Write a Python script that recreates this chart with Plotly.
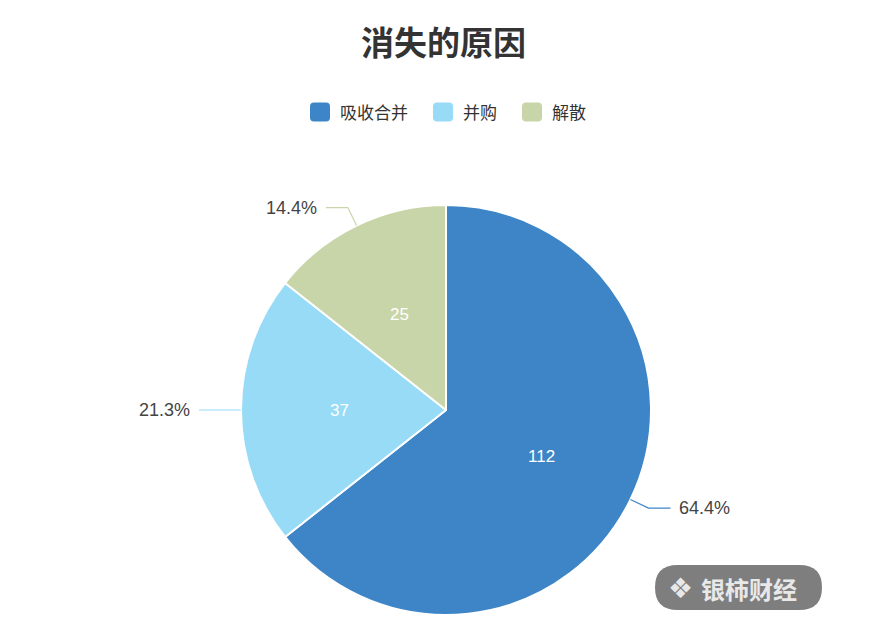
import math
import plotly.graph_objects as go

categories = ["吸收合并", "并购", "解散"]
values = [112, 37, 25]
colors = ["#3d85c6", "#97dbf7", "#c8d5a8"]
title_text = "消失的原因"
watermark_text = "银柿财经"

W, H = 870, 638
OFF = 8  # page body margin
cx, cy, R = 446, 410, 205  # pie center / radius in page pixels


def px(x):
    return (x - OFF) / W


def py(y):
    return 1 - (y - OFF) / H


CJK = "Noto Sans CJK SC, Noto Sans, sans-serif"
NUM = "Liberation Sans, Arial, sans-serif"


def rounded_rect(x0, y0, x1, y1, r):
    return (
        f"M {px(x0 + r)},{py(y0)} L {px(x1 - r)},{py(y0)} "
        f"Q {px(x1)},{py(y0)} {px(x1)},{py(y0 + r)} "
        f"L {px(x1)},{py(y1 - r)} "
        f"Q {px(x1)},{py(y1)} {px(x1 - r)},{py(y1)} "
        f"L {px(x0 + r)},{py(y1)} "
        f"Q {px(x0)},{py(y1)} {px(x0)},{py(y1 - r)} "
        f"L {px(x0)},{py(y0 + r)} "
        f"Q {px(x0)},{py(y0)} {px(x0 + r)},{py(y0)} Z"
    )


fig = go.Figure()
fig.add_trace(go.Pie(
    labels=categories,
    values=values,
    sort=False,
    direction="clockwise",
    rotation=0,
    marker=dict(colors=colors, line=dict(color="white", width=2)),
    textinfo="none",
    hoverinfo="label+value+percent",
    domain=dict(x=[px(cx - R), px(cx + R)], y=[py(cy + R), py(cy - R)]),
    showlegend=False,
))

annotations = []
shapes = []
total = sum(values)
start = 0.0
for cat, v, col in zip(categories, values, colors):
    frac = v / total
    mid = (start + frac / 2) * 2 * math.pi  # clockwise from top
    start += frac
    s, c = math.sin(mid), math.cos(mid)
    ri = R * 0.52
    annotations.append(dict(
        x=px(cx + ri * s), y=py(cy - ri * c), xref="paper", yref="paper",
        text=str(v), showarrow=False,
        font=dict(family=NUM, size=17, color="white"),
        xanchor="center", yanchor="middle"))
    x1, y1 = cx + R * s, cy - R * c
    x2, y2 = cx + (R + 20) * s, cy - (R + 20) * c
    right = s >= 0
    x3 = x2 + (22 if right else -22)
    path = f"M {px(x1)},{py(y1)} L {px(x2)},{py(y2)} L {px(x3)},{py(y2)}"
    shapes.append(dict(type="path", xref="paper", yref="paper", path=path,
                       line=dict(color=col, width=1.2)))
    pct = f"{frac * 100:.1f}%"
    annotations.append(dict(
        x=px(x3 + (7 if right else -7)), y=py(y2), xref="paper", yref="paper",
        text=pct, showarrow=False,
        font=dict(family=NUM, size=18, color="#444444"),
        xanchor="left" if right else "right", yanchor="middle"))

# custom legend
legend_x = [310, 433, 522]
ly = 112
for cat, col, lx in zip(categories, colors, legend_x):
    shapes.append(dict(type="path", xref="paper", yref="paper",
                       path=rounded_rect(lx, ly - 9.5, lx + 20, ly + 9.5, 4),
                       fillcolor=col, line=dict(width=0)))
    annotations.append(dict(
        x=px(lx + 28), y=py(ly), xref="paper", yref="paper", text=cat,
        showarrow=False, font=dict(family=CJK, size=17, color="#333333"),
        xanchor="left", yanchor="middle"))

# watermark rounded box
bx0, by0, bx1, by1 = 655, 565, 822, 610
shapes.append(dict(type="path", xref="paper", yref="paper",
                   path=rounded_rect(bx0, by0, bx1, by1, (by1 - by0) / 2),
                   fillcolor="rgba(115,115,115,0.92)", line=dict(width=0)))
annotations.append(dict(
    x=px(680), y=py(588), xref="paper", yref="paper", text="❖",
    showarrow=False, font=dict(family="DejaVu Sans", size=28, color="#e8e8e8"),
    xanchor="center", yanchor="middle"))
annotations.append(dict(
    x=px(699), y=py(588), xref="paper", yref="paper",
    text=f"<b>{watermark_text}</b>", showarrow=False,
    font=dict(family=CJK, size=24, color="#e8e8e8"),
    xanchor="left", yanchor="middle"))

# title
annotations.append(dict(
    x=px(444), y=py(41), xref="paper", yref="paper",
    text=f"<b>{title_text}</b>", showarrow=False,
    font=dict(family=CJK, size=33, color="#333333"),
    xanchor="center", yanchor="middle"))

fig.update_layout(
    width=W, height=H,
    margin=dict(l=0, r=0, t=0, b=0),
    paper_bgcolor="white", plot_bgcolor="white",
    showlegend=False,
    shapes=shapes,
    annotations=annotations,
)

fig.write_html("out.html")
